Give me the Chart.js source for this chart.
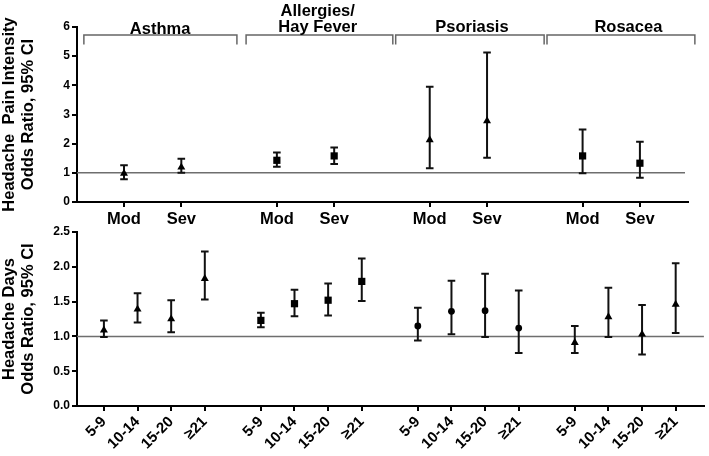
<!DOCTYPE html>
<html><head><meta charset="utf-8">
<script src="https://cdn.jsdelivr.net/npm/chart.js@4.4.1/dist/chart.umd.min.js"></script>
<style>
html,body{margin:0;padding:0;background:#fff;}
#wrap{position:relative;width:709px;height:456px;overflow:hidden;background:#fff;}
canvas{position:absolute;left:0;top:0;}
</style></head><body>
<div id="wrap"><canvas id="cTop" width="709" height="456"></canvas><canvas id="cBot" width="709" height="456"></canvas></div>
<script>
// ---------------- data ----------------
const conditions = ['Asthma', 'Allergies/\nHay Fever', 'Psoriasis', 'Rosacea'];
const severityLabels = ['Mod', 'Sev'];
const dayLabels = ['5-9', '10-14', '15-20', '\u226521'];
const painTicks = [0, 1, 2, 3, 4, 5, 6];
const dayTicks = [0, 0.5, 1, 1.5, 2, 2.5];

// Headache pain intensity: odds ratio and 95% CI (per condition: Mod, Sev)
const painOR   = [[0.98, 1.19], [1.43, 1.58], [2.13, 2.78], [1.58, 1.33]];
const painLow  = [[0.78, 1.00], [1.21, 1.30], [1.16, 1.52], [0.99, 0.83]];
const painHigh = [[1.26, 1.48], [1.70, 1.87], [3.95, 5.13], [2.49, 2.07]];

// Headache days: odds ratio and 95% CI (per condition: 5-9, 10-14, 15-20, >=21)
const daysOR   = [[1.09, 1.39, 1.25, 1.83], [1.23, 1.47, 1.52, 1.79], [1.15, 1.36, 1.37, 1.12], [0.91, 1.28, 1.03, 1.46]];
const daysLow  = [[0.99, 1.20, 1.06, 1.53], [1.13, 1.29, 1.30, 1.51], [0.94, 1.03, 0.99, 0.76], [0.76, 0.99, 0.74, 1.05]];
const daysHigh = [[1.23, 1.62, 1.52, 2.22], [1.34, 1.67, 1.76, 2.12], [1.41, 1.80, 1.90, 1.66], [1.15, 1.70, 1.45, 2.05]];

const painMarkers = ['triangle', 'rect', 'triangle', 'rect'];
const daysMarkers = ['triangle', 'rect', 'circle', 'triangle'];

// ---------------- layout / style ----------------
const FONT = "'Liberation Sans', Arial, Helvetica, sans-serif";
const GAP = 0.667; // blank space between condition groups (in category units)
const markerRadius = { triangle: 4.6, rect: 5.1, circle: 3.4 };
const bracketSpans = [[-0.70, 1.97], [2.13, 4.69], [4.74, 7.33], [7.38, 9.96]];
const labelCenters = [0.63, 3.38, 6.07, 8.80];
const labelBaselines = [33.5, 31.8, 31.5, 31.5];

function positions(nGroups, nPer) {
  const out = [];
  for (let g = 0; g < nGroups; g++) for (let i = 0; i < nPer; i++) out.push(g * (nPer + GAP) + i);
  return out;
}

function buildDatasets(orArr, lowArr, highArr, markers) {
  const nPer = orArr[0].length;
  return orArr.map((row, g) => ({
    label: conditions[g],
    data: row.map((v, i) => ({ x: g * (nPer + GAP) + i, y: v, lo: lowArr[g][i], hi: highArr[g][i] })),
    pointStyle: markers[g],
    pointRadius: markerRadius[markers[g]],
    pointHoverRadius: markerRadius[markers[g]],
    backgroundColor: '#000',
    borderColor: '#000',
    pointBorderWidth: 0,
    showLine: false
  }));
}

const refLine = {
  id: 'refLine',
  beforeDatasetsDraw(chart) {
    const { ctx, chartArea } = chart;
    const y = chart.scales.y.getPixelForValue(1);
    ctx.save();
    ctx.strokeStyle = '#6e6e6e';
    ctx.lineWidth = 1.5;
    ctx.beginPath();
    ctx.moveTo(chartArea.left, y);
    ctx.lineTo(chartArea.right - (chart.canvas.id === 'cTop' ? 3 : 0), y);
    ctx.stroke();
    ctx.restore();
  }
};

const errorBars = {
  id: 'errorBars',
  beforeDatasetsDraw(chart) {
    const ctx = chart.ctx;
    const ys = chart.scales.y;
    const cap = 3.8;
    ctx.save();
    ctx.strokeStyle = '#111';
    ctx.lineWidth = 2;
    chart.data.datasets.forEach((ds, di) => {
      const meta = chart.getDatasetMeta(di);
      meta.data.forEach((pt, i) => {
        const r = ds.data[i];
        const x = pt.x;
        const yl = ys.getPixelForValue(r.lo), yh = ys.getPixelForValue(r.hi);
        ctx.beginPath();
        ctx.moveTo(x, yl); ctx.lineTo(x, yh);
        ctx.moveTo(x - cap, yl); ctx.lineTo(x + cap, yl);
        ctx.moveTo(x - cap, yh); ctx.lineTo(x + cap, yh);
        ctx.stroke();
      });
    });
    ctx.restore();
  }
};

const brackets = {
  id: 'brackets',
  afterDraw(chart) {
    const ctx = chart.ctx;
    const xs = chart.scales.x;
    ctx.save();
    ctx.strokeStyle = '#666';
    ctx.lineWidth = 1.5;
    const yTop = 35, yEnd = 44.5;
    bracketSpans.forEach(([a, b]) => {
      const xa = xs.getPixelForValue(a), xb = xs.getPixelForValue(b);
      ctx.beginPath();
      ctx.moveTo(xa, yEnd); ctx.lineTo(xa, yTop); ctx.lineTo(xb, yTop); ctx.lineTo(xb, yEnd);
      ctx.stroke();
    });
    ctx.fillStyle = '#000';
    ctx.font = "bold 16.5px " + FONT;
    ctx.textAlign = 'center';
    ctx.textBaseline = 'alphabetic';
    conditions.forEach((name, g) => {
      const lines = name.split('\n');
      const cx = xs.getPixelForValue(labelCenters[g]);
      lines.forEach((ln, k) => {
        const base = labelBaselines[g] - (lines.length - 1 - k) * 15.8;
        ctx.fillText(ln, cx, base);
      });
    });
    ctx.restore();
  }
};

function axisCommon() {
  return {
    grid: { display: true, drawOnChartArea: false, drawTicks: true, tickLength: 5, color: '#000', lineWidth: 2 },
    border: { display: true, color: '#000', width: 2 }
  };
}

const topPos = positions(conditions.length, severityLabels.length);
const botPos = positions(conditions.length, dayLabels.length);

new Chart(document.getElementById('cTop'), {
  type: 'scatter',
  data: { datasets: buildDatasets(painOR, painLow, painHigh, painMarkers) },
  options: {
    responsive: false, animation: false, devicePixelRatio: 1,
    layout: { padding: { left: 0, top: 27, right: 21, bottom: 224 } },
    plugins: { legend: { display: false }, tooltip: { enabled: false } },
    scales: {
      x: Object.assign(axisCommon(), {
        type: 'linear', min: -0.82, max: 9.84,
        afterBuildTicks: s => { s.ticks = topPos.map(v => ({ value: v })); },
        afterFit: s => { s.height = 30; },
        ticks: { autoSkip: false, maxRotation: 0, minRotation: 0, padding: 3, color: '#000',
          font: { family: FONT, size: 16.5, weight: 'bold' },
          callback: (v, i) => severityLabels[i % severityLabels.length] }
      }),
      y: Object.assign(axisCommon(), {
        type: 'linear', min: 0, max: 6,
        afterBuildTicks: s => { s.ticks = painTicks.map(v => ({ value: v })); },
        afterFit: s => { s.width = 77; },
        ticks: { padding: 2, color: '#000', font: { family: FONT, size: 12, weight: 'bold' },
          callback: v => String(v) },
        title: { display: true, text: ['Headache  Pain Intensity', 'Odds Ratio, 95% CI'], color: '#000',
          padding: { top: 0, bottom: 0 }, font: { family: FONT, size: 16.5, weight: 'bold', lineHeight: 1.15 } }
      })
    }
  },
  plugins: [refLine, errorBars, brackets]
});

new Chart(document.getElementById('cBot'), {
  type: 'scatter',
  data: { datasets: buildDatasets(daysOR, daysLow, daysHigh, daysMarkers) },
  options: {
    responsive: false, animation: false, devicePixelRatio: 1,
    layout: { padding: { left: 0, top: 232, right: 2, bottom: 0 } },
    plugins: { legend: { display: false }, tooltip: { enabled: false } },
    scales: {
      x: Object.assign(axisCommon(), {
        type: 'linear', min: -0.8, max: 17.84,
        afterBuildTicks: s => { s.ticks = botPos.map(v => ({ value: v })); },
        afterFit: s => { s.height = 50; },
        ticks: { autoSkip: false, maxRotation: 45, minRotation: 45, padding: 2, color: '#000',
          font: { family: FONT, size: 15, weight: 'bold' },
          callback: (v, i) => dayLabels[i % dayLabels.length] }
      }),
      y: Object.assign(axisCommon(), {
        type: 'linear', min: 0, max: 2.5,
        afterBuildTicks: s => { s.ticks = dayTicks.map(v => ({ value: v })); },
        afterFit: s => { s.width = 77; },
        ticks: { padding: 2, color: '#000', font: { family: FONT, size: 12, weight: 'bold' },
          callback: v => Number(v).toFixed(1) },
        title: { display: true, text: ['Headache Days', 'Odds Ratio, 95% CI'], color: '#000',
          padding: { top: 0, bottom: 0 }, font: { family: FONT, size: 16.5, weight: 'bold', lineHeight: 1.15 } }
      })
    }
  },
  plugins: [refLine, errorBars]
});
</script>
</body></html>
